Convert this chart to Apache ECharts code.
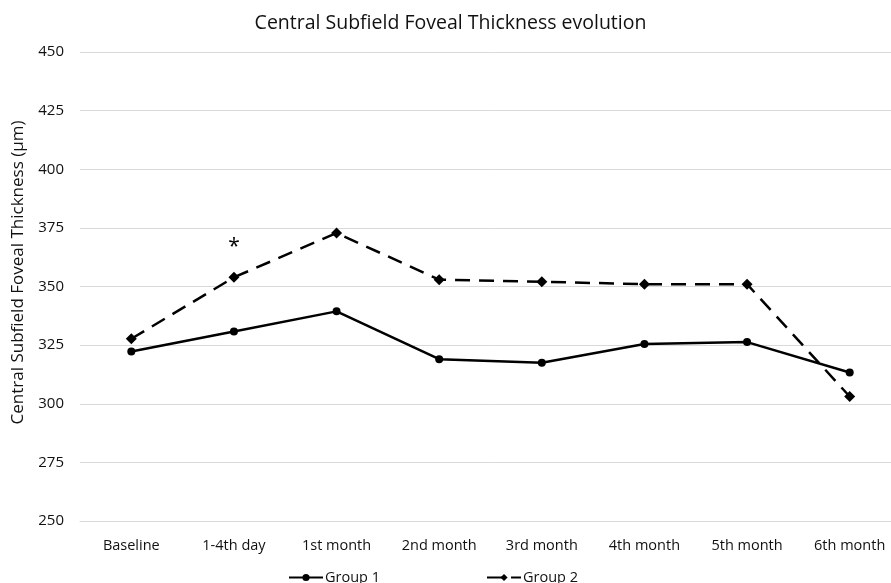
<!DOCTYPE html>
<html>
<head>
<meta charset="utf-8">
<script src="https://cdn.jsdelivr.net/npm/echarts@6/dist/echarts.min.js"></script>
<style>
  html, body { margin: 0; padding: 0; background: #fff; overflow: hidden; }
  #chart { width: 901px; height: 583px; }
</style>
</head>
<body>
<div id="chart"></div>
<script>
// time points and measured thickness (µm)
var categories = ['Baseline', '1-4th day', '1st month', '2nd month', '3rd month', '4th month', '5th month', '6th month'];
var group1 = [322.3, 330.8, 339.4, 319, 317.5, 325.5, 326.3, 313.3];
var group2 = [327.7, 353.9, 372.8, 352.9, 352, 351, 351, 303.1];
var yTicks = [250, 275, 300, 325, 350, 375, 400, 425, 450];
var starAt = 1; // significance mark over group 2

var font = 'Open Sans';
var chart = echarts.init(document.getElementById('chart'));

var g2data = group2.map(function (v, i) {
  if (i !== starAt) return v;
  return {
    value: v,
    label: { show: true, position: 'top', distance: 14, formatter: '*', fontSize: 21, color: '#000', fontFamily: font }
  };
});

chart.setOption({
  animation: false,
  textStyle: { fontFamily: font },
  title: {
    text: 'Central Subfield Foveal Thickness evolution',
    left: 'center', top: 8,
    textStyle: { fontSize: 19.5, fontWeight: 'normal', color: '#111', fontFamily: font }
  },
  // the plot runs past the right edge of the window, as in the source
  grid: { left: 80, top: 52, width: 821, height: 469 },
  legend: {
    left: 283, top: 565, itemGap: 106, itemWidth: 34, itemHeight: 9,
    textStyle: { fontSize: 14.5, color: '#111', padding: [0, 0, 0, -3] },
    data: ['Group 1', 'Group 2']
  },
  xAxis: {
    type: 'category', data: categories,
    axisLine: { lineStyle: { color: '#d9d9d9', width: 1 } },
    axisTick: { show: false },
    axisLabel: { fontSize: 14.5, color: '#111', margin: 17 }
  },
  yAxis: {
    type: 'value', min: yTicks[0], max: yTicks[yTicks.length - 1], interval: 25,
    name: 'Central Subfield Foveal Thickness (µm)',
    nameLocation: 'middle', nameGap: 53,
    nameTextStyle: { fontSize: 17, color: '#111', padding: [0, 0, 0, 28] },
    axisLine: { show: false }, axisTick: { show: false },
    axisLabel: { fontSize: 15, color: '#111', margin: 16 },
    splitLine: { lineStyle: { color: '#d9d9d9', width: 1 } }
  },
  series: [
    {
      name: 'Group 1', type: 'line', data: group1,
      symbol: 'circle', symbolSize: 8,
      lineStyle: { color: '#000', width: 2.5 },
      itemStyle: { color: '#000' }
    },
    {
      name: 'Group 2', type: 'line', data: g2data,
      symbol: 'diamond', symbolSize: 11,
      lineStyle: { color: '#000', width: 2.5, type: [15, 9] },
      itemStyle: { color: '#000' }
    }
  ]
});
</script>
</body>
</html>
